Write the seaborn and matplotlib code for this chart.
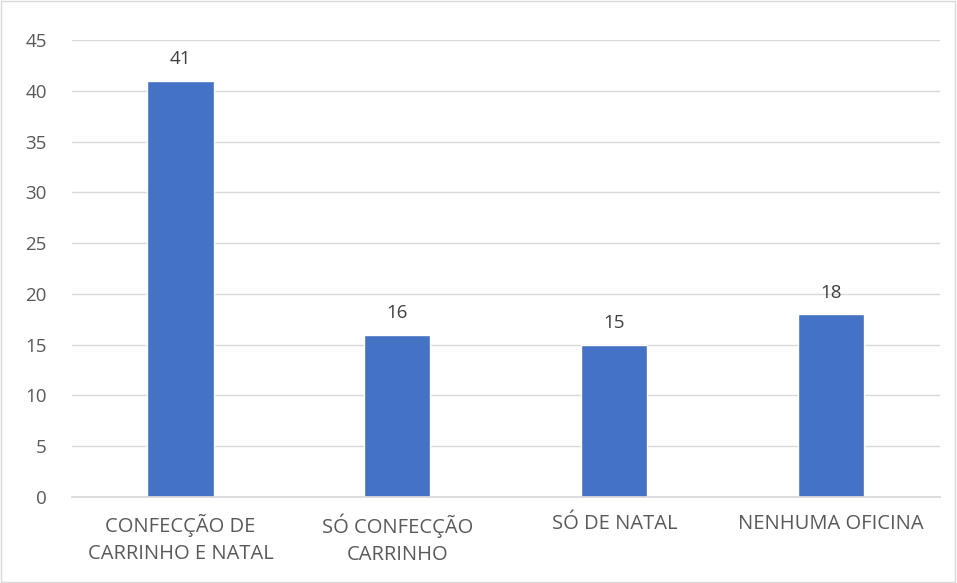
import numpy as np
import seaborn as sns
import pandas as pd
import matplotlib.pyplot as plt
from matplotlib.patches import Rectangle

categorias = ['CONFECÇÃO DE\nCARRINHO E NATAL', 'SÓ CONFECÇÃO\nCARRINHO', 'SÓ DE NATAL', 'NENHUMA OFICINA']
valores = [41, 16, 15, 18]
yticks = [0, 5, 10, 15, 20, 25, 30, 35, 40, 45]

df = pd.DataFrame({'cat': categorias, 'val': valores})

sns.set_theme(style='white')
plt.rcParams['font.family'] = ['Open Sans', 'DejaVu Sans']

fig = plt.figure(figsize=(9.57, 5.83), dpi=100)
ax = fig.add_axes([0.0752, 0.1475, 0.9068, 0.7839])

sns.barplot(data=df, x='cat', y='val', color='#4472C4', width=0.305, ax=ax, saturation=1)

ax.set_ylim(0, 45)
ax.set_yticks(yticks)
ax.yaxis.grid(True, color='#D9D9D9', linewidth=1)
ax.set_axisbelow(True)
for s in ['top', 'right', 'left']:
    ax.spines[s].set_visible(False)
ax.spines['bottom'].set_color('#D9D9D9')
ax.set_xlabel('')
ax.set_ylabel('')
ax.tick_params(axis='both', colors='#595959', labelsize=13.5, length=0)
ax.tick_params(axis='x', pad=12, labelsize=14.5)
ax.tick_params(axis='y', pad=18)
for lbl in ax.get_xticklabels():
    lbl.set_linespacing(1.45)
for lbl in ax.get_yticklabels():
    lbl.set_horizontalalignment('right')

for c in ax.containers:
    ax.bar_label(c, fmt='%d', padding=9, fontsize=13.5, color='#404040')

fig.patches.append(Rectangle((0.001, 0.001), 0.997, 0.997, transform=fig.transFigure,
                             fill=False, edgecolor='#D9D9D9', linewidth=1))

fig.savefig('out.png', dpi=100)
